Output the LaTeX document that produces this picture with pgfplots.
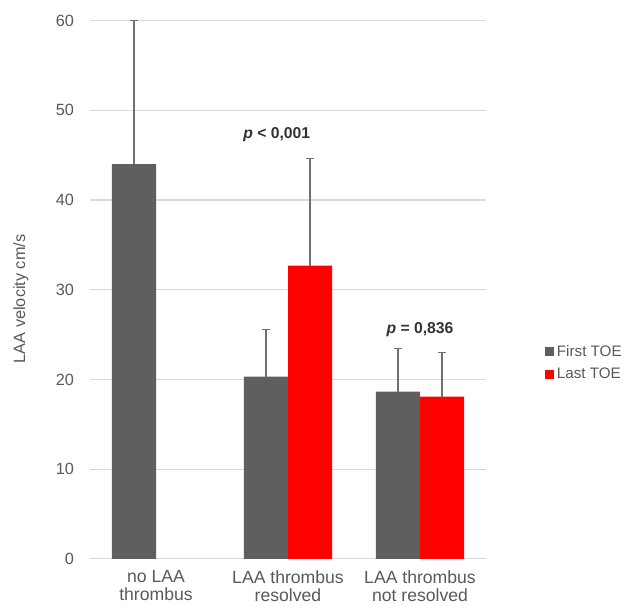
\documentclass[border=0pt]{standalone}
\usepackage{pgfplots}
\pgfplotsset{compat=1.18}
\usepackage{fontspec}
\setmainfont{Liberation Sans}
\definecolor{bargray}{HTML}{5F5F5F}
\definecolor{txtgray}{HTML}{595959}
\definecolor{gridgray}{HTML}{D9D9D9}
\definecolor{errgray}{HTML}{707070}
\begin{document}
\begin{tikzpicture}
\path[use as bounding box] (0,0) rectangle (474pt,454.5pt);
\begin{axis}[
  at={(67.5pt,35.4pt)}, anchor=south west,
  scale only axis, width=297pt, height=403.6pt,
  xmin=-0.5, xmax=2.5, ymin=0, ymax=60,
  xtick={0,1,2}, ytick={0,10,...,60},
  xticklabels={{no LAA\\thrombus},{LAA thrombus\\resolved},{LAA thrombus\\not resolved}},
  xticklabel style={align=center, text=txtgray, font=\fontsize{13.2}{13.5}\selectfont, yshift=-6.5pt, inner ysep=2pt},
  yticklabel style={text=txtgray, font=\fontsize{12.2}{15}\selectfont, xshift=-8.5pt},
  /pgf/number format/assume math mode=true,
  axis line style={draw=none},
  major tick length=0pt,
  ymajorgrids, major grid style={gridgray, line width=0.9pt},
  ylabel={LAA velocity cm/s},
  every axis y label/.style={at={(axis description cs:-0.1742,0.483)}, rotate=90, anchor=center, text=txtgray, font=\fontsize{12.2}{15}\selectfont},
  ybar, bar width=33pt,
  legend style={at={(1.149,0.364)}, anchor=west, draw=none, fill=none, font=\fontsize{11.4}{13}\selectfont, text=txtgray, row sep=3.5pt, inner sep=0pt, nodes={inner xsep=2pt}},
  legend image code/.code={\fill[#1] (0pt,-3.4pt) rectangle (6.75pt,3.4pt);},
  legend cell align=left,
]
\addplot[fill=bargray, draw=none, bar shift=-16.5pt,
  error bars/.cd, y dir=plus, y explicit,
  error bar style={errgray, line width=0.8pt},
  error mark options={rotate=90, mark size=3pt, errgray, line width=0.8pt}]
  coordinates {(0,44.0) +- (0,16.0) (1,20.3) +- (0,5.3) (2,18.65) +- (0,4.8)};
\addplot[fill=red, draw=none, bar shift=16.5pt,
  error bars/.cd, y dir=plus, y explicit,
  error bar style={errgray, line width=0.8pt},
  error mark options={rotate=90, mark size=3pt, errgray, line width=0.8pt}]
  coordinates {(1,32.7) +- (0,11.95) (2,18.07) +- (0,4.9)};
\legend{First TOE, Last TOE}
\node[font=\fontsize{11.8}{13}\selectfont\bfseries, text=black!80] at (axis cs:0.915,47.3) {\textit{p} < 0,001};
\node[font=\fontsize{11.8}{13}\selectfont\bfseries, text=black!80] at (axis cs:2.0,25.5) {\textit{p} = 0,836};
\end{axis}
\end{tikzpicture}
\end{document}
